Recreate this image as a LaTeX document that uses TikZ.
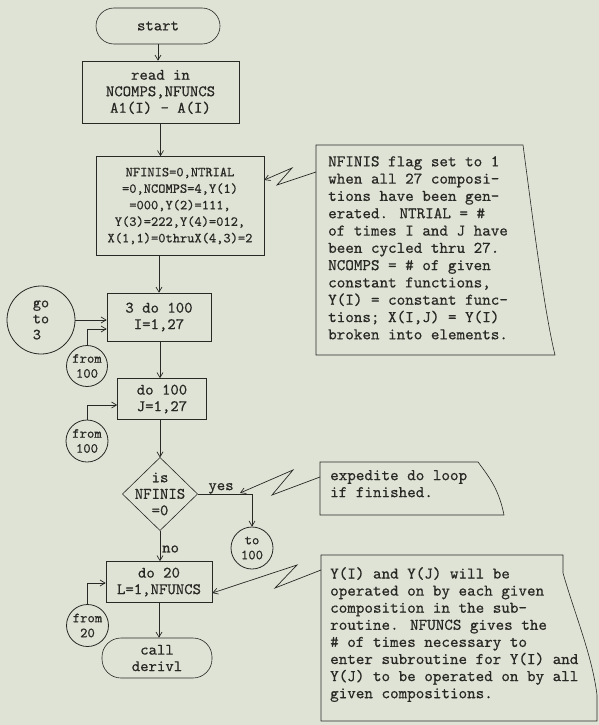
\documentclass[tikz,border=0pt]{standalone}
\usepackage{fontspec}
\newfontfamily\tw{lmmono10-regular.otf}[FakeBold=0.5]
\usetikzlibrary{arrows.meta}
\definecolor{paper}{RGB}{223,227,214}
\definecolor{ink}{RGB}{40,40,36}
\begin{document}
\begin{tikzpicture}[x=1pt,y=-1pt,
  ln/.style={draw=ink,line width=0.7pt},
  arr/.style={ln,-{Straight Barb[length=5pt,width=6pt]}},
  tt/.style={font=\fontsize{16}{16.5}\selectfont\tw,text=ink},
  flowbox/.style={tt,draw=ink,line width=0.6pt,rectangle,inner sep=0pt,align=center},
  term/.style={flowbox,rounded corners=18pt},
  conn/.style={tt,draw=ink,line width=0.8pt,circle,inner sep=0pt,align=center,font=\fontsize{14}{15}\selectfont\tw},
  note/.style={tt,inner sep=0pt,align=left,anchor=north west,font=\fontsize{16.3}{17.3}\selectfont\tw},
  lbl/.style={tt,inner sep=1pt}]
\fill[paper] (0,0) rectangle (599,725);
\useasboundingbox (0,0) rectangle (599,725);

% flowchart nodes
\node[term,minimum width=124pt,minimum height=36pt] (start) at (158,26) {start};
\node[flowbox,minimum width=157pt,minimum height=62pt] (read) at (160.5,92) {read in\\NCOMPS,NFUNCS\\A1(I) - A(I)};
\node[flowbox,minimum width=168pt,minimum height=99pt,font=\fontsize{13.8}{16.5}\selectfont\tw] (init) at (180,206)
  {NFINIS=0,NTRIAL\\=0,NCOMPS=4,Y(1)\\=000,Y(2)=111,\\Y(3)=222,Y(4)=012,\\X(1,1)=0thruX(4,3)=2};
\node[flowbox,minimum width=104pt,minimum height=48pt] (doI) at (159,317) {3 do 100\\I=1,27};
\node[conn,minimum size=68pt,align=left,font=\fontsize{15.5}{16}\selectfont\tw] (goto) at (41,320) {go\\to\\3};
\node[conn,minimum size=41pt] (fromA) at (87,366) {from\\100};
\node[flowbox,minimum width=89pt,minimum height=41pt] (doJ) at (162,399) {do 100\\J=1,27};
\node[conn,minimum size=42pt] (fromB) at (87,441) {from\\100};
\node[tt,align=center,inner sep=0pt] (dia) at (160,494) {is\\NFINIS\\=0};
\coordinate (diaT) at (160,457.5);
\coordinate (diaB) at (160,530.5);
\coordinate (diaL) at (122.5,494);
\coordinate (diaR) at (197.5,494);
\draw[ln,line width=0.6pt] (diaT) -- (diaR) -- (diaB) -- (diaL) -- cycle;
\node[conn,minimum size=42pt] (to) at (252,548) {to\\100};
\node[flowbox,minimum width=106pt,minimum height=41pt] (doL) at (159,582) {do 20\\L=1,NFUNCS};
\node[conn,minimum size=42pt] (fromC) at (87.5,625.5) {from\\20};
\node[term,minimum width=110pt,minimum height=40pt,rounded corners=19pt] (call) at (157,658) {call\\derivl};

% flow connectors
\draw[arr] (start.south) -- (start.south |- read.north);
\draw[arr] (read.south) -- (read.south |- init.north);
\draw[arr] (doI.north |- init.south) -- (doI.north);
\draw[arr] (goto.east) -- (doI.west |- goto.east);
\draw[arr] (fromA.north) |- ([yshift=-12pt]doI.west);
\draw[arr] (diaT |- doI.south) -- (diaT |- doJ.north);
\draw[arr] (fromB.north) |- ([yshift=-6pt]doJ.west);
\draw[arr] (diaT |- doJ.south) -- (diaT);
\draw[arr] (diaR) -| (to.north);
\node[lbl,anchor=south] (yes) at (221,495) {yes};
\draw[arr] (diaB) -- (diaB |- doL.north);
\node[lbl,anchor=west] (no) at (161,549) {no};
\draw[arr] (fromC.north) |- ([yshift=-1pt]doL.west);
\draw[arr] (doL.south) -- (doL.south |- call.north);

% comment 1
\draw[ln,line width=0.6pt] (316,145) -- (523,145) .. controls (533,220) and (544,310) .. (555,355) -- (316,355) -- cycle;
\node[note] (n1) at (328,156) {NFINIS flag set to 1\\when all 27 composi-\\tions have been gen-\\erated. NTRIAL = \#\\of times I and J have\\been cycled thru 27.\\NCOMPS = \# of given\\constant functions,\\Y(I) = constant func-\\tions; X(I,J) = Y(I)\\broken into elements.};
\coordinate (n1L) at (316,172);
\draw[arr] (n1L) -- (277,185) -- (292,168) -- (init.east |- 0,180);

% comment 2
\draw[ln,line width=0.6pt] (320,462) -- (478,462) .. controls (490,478) and (499,490) .. (504,515) -- (320,515) -- cycle;
\node[note,font=\fontsize{16.3}{17}\selectfont\tw] (n2) at (330,470) {expedite do loop\\if finished.};
\coordinate (n2L) at (320,477);
\coordinate (yesPt) at (240,493);
\draw[arr] (n2L) -- (272,495) -- (293,470) -- (yesPt);

% comment 3
\draw[ln,line width=0.6pt] (321,555) -- (563,555) -- (563,573) .. controls (575,615) and (592,655) .. (597,695) -- (597,721) -- (321,721) -- cycle;
\node[note,font=\fontsize{16.3}{17.1}\selectfont\tw] (n3) at (330,567) {Y(I) and Y(J) will be\\operated on by each given\\composition in the sub-\\routine. NFUNCS gives the\\\# of times necessary to\\enter subroutine for Y(I) and\\Y(J) to be operated on by all\\given compositions.};
\coordinate (n3L) at (321,570);
\draw[arr] (n3L) -- (275,588) -- (297,565) -- (doL.east |- 0,593);
\end{tikzpicture}
\end{document}
